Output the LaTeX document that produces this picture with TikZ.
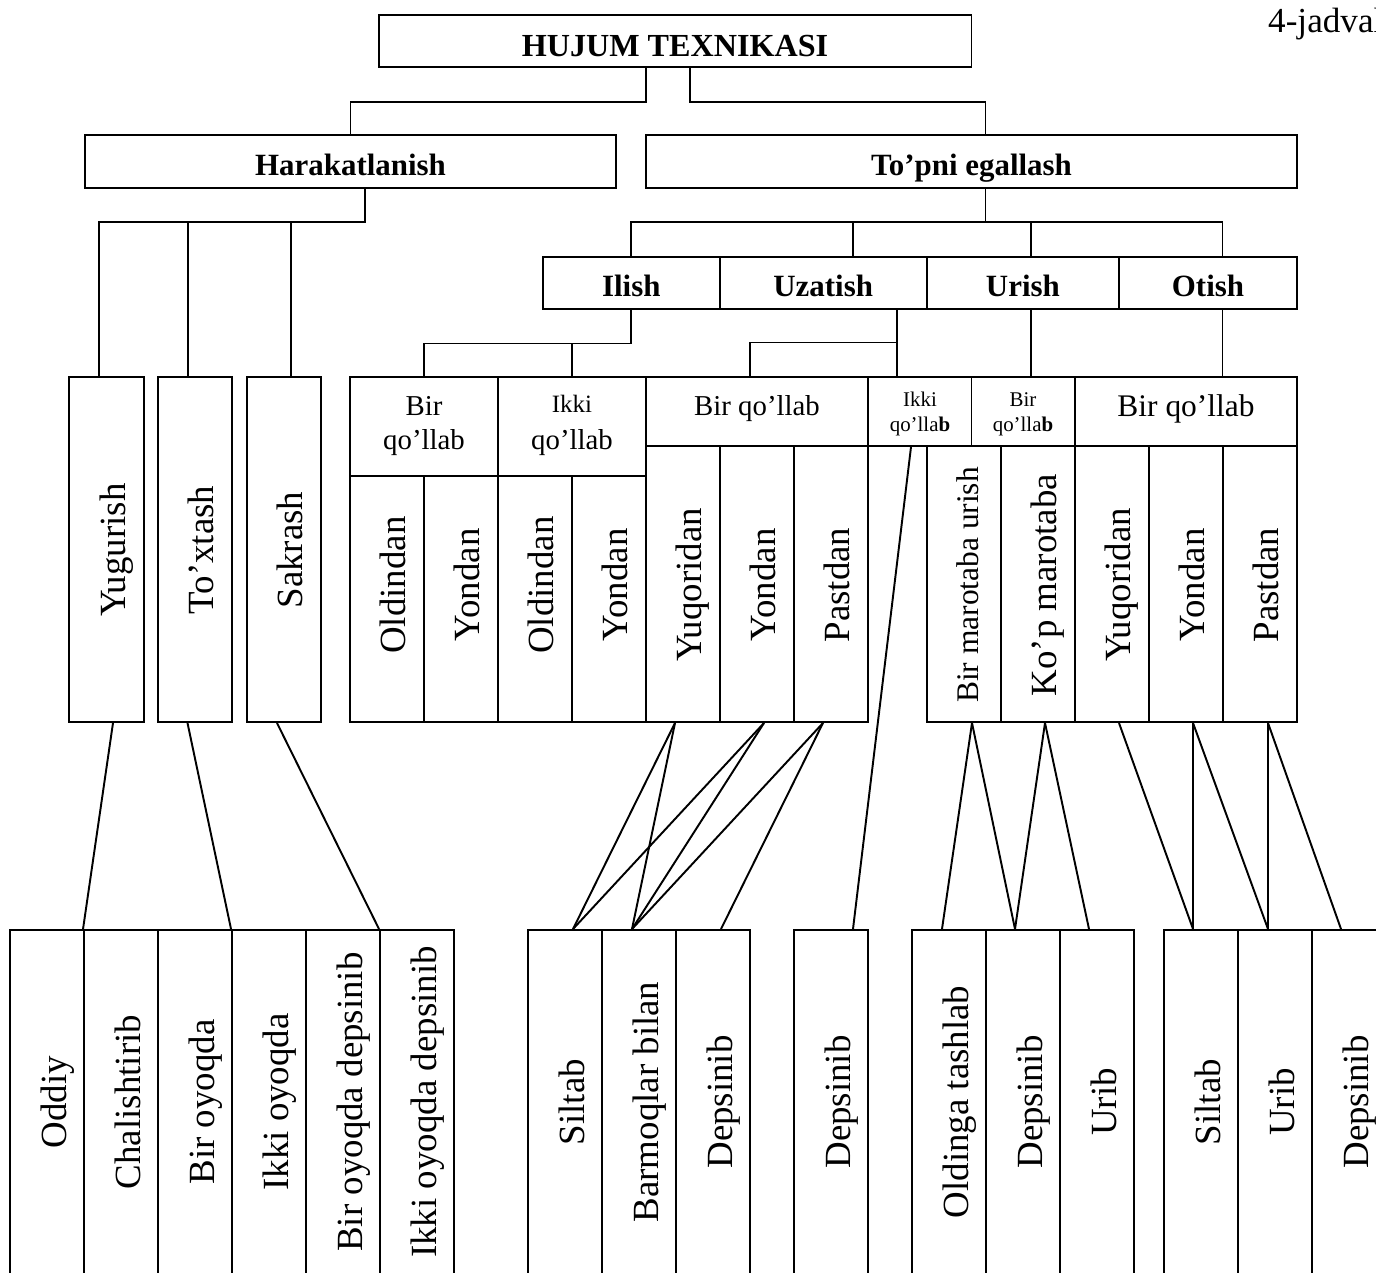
\documentclass[tikz,border=0pt]{standalone}
\usepackage{fontspec}
\setmainfont{Liberation Serif}
\usetikzlibrary{fit}

\begin{document}
\begin{tikzpicture}[x=0.02cm, y=-0.02cm,
    box/.style={draw, line width=1.1pt, inner sep=0pt},
    link/.style={line width=1.1pt},
    hd/.style={font=\fontsize{17.6}{20}\selectfont\bfseries, anchor=base},
    lbl/.style={font=\fontsize{16.4}{19}\selectfont, anchor=base},
    sm/.style={font=\fontsize{11.9}{14}\selectfont, anchor=base},
    vt/.style={font=\fontsize{21}{24}\selectfont, rotate=90, anchor=base}]

\useasboundingbox (0,0) rectangle (1376,1272);

% ── TOP: title ──
\node[box, fit={(379,15) (971.5,67)}] (title) {};
\node[hd, font=\fontsize{18.3}{21}\selectfont\bfseries] (title-t) at (675,56) {HUJUM TEXNIKASI};
\node[font=\fontsize{20}{24}\selectfont, anchor=base west] (jadval) at (1262,32) {4-jadval};

% ── LEVEL 1 ──
\node[box, fit={(85,135) (616,188)}] (harak) {};
\node[hd] (harak-t) at (350.5,175) {Harakatlanish};
\node[box, fit={(646,135) (1297,188)}] (topni) {};
\node[hd] (topni-t) at (971.5,175) {To’pni egallash};

% ── LEVEL 2: ways of taking the ball ──
\node[box, fit={(543,257) (719.6,309)}] (ilish) {};
\node[hd] (ilish-t) at (631.3,296) {Ilish};
\node[box, fit={(719.6,257) (926.7,309)}] (uzat) {};
\node[hd] (uzat-t) at (823.2,296) {Uzatish};
\node[box, fit={(926.7,257) (1119,309)}] (urish) {};
\node[hd] (urish-t) at (1022.9,296) {Urish};
\node[box, fit={(1119,257) (1297,309)}] (otish) {};
\node[hd] (otish-t) at (1208,296) {Otish};

% ── LEVEL 3: Harakatlanish ──
\node[box, fit={(69,377) (144,722)}] (yug) {};
\node[vt] (yug-t) at (125,550) {Yugurish};
\node[box, fit={(158,377) (232,722)}] (tox) {};
\node[vt] (tox-t) at (213,550) {To’xtash};
\node[box, fit={(247,377) (321,722)}] (sak) {};
\node[vt] (sak-t) at (302,550) {Sakrash};

% Ilish
\node[box, fit={(350,377) (498,476)}] (ib) {};
\node[lbl] (ib-t1) at (424,415) {Bir};
\node[lbl] (ib-t2) at (424,449.5) {qo’llab};
\node[box, fit={(498,377) (646,476)}] (ik) {};
\node[lbl, font=\fontsize{14.2}{17}\selectfont] (ik-t1) at (572,412.7) {Ikki};
\node[lbl] (ik-t2) at (572,449.5) {qo’llab};
\node[box, fit={(350,476) (424,722)}] (old1) {};
\node[vt] (old1-t) at (405,585) {Oldindan};
\node[box, fit={(424,476) (498,722)}] (yon1) {};
\node[vt] (yon1-t) at (479,585) {Yondan};
\node[box, fit={(498,476) (572,722)}] (old2) {};
\node[vt] (old2-t) at (553,585) {Oldindan};
\node[box, fit={(572,476) (646,722)}] (yon2) {};
\node[vt] (yon2-t) at (627,585) {Yondan};

% Uzatish
\node[box, fit={(646,377) (868,446)}] (ub) {};
\node[lbl] (ub-t) at (757,415) {Bir qo’llab};
\node[box, fit={(646,446) (720,722)}] (yuq1) {};
\node[vt] (yuq1-t) at (701,585) {Yuqoridan};
\node[box, fit={(720,446) (794,722)}] (yon3) {};
\node[vt] (yon3-t) at (775,585) {Yondan};
\node[box, fit={(794,446) (868,722)}] (pas1) {};
\node[vt] (pas1-t) at (849,585) {Pastdan};
\node[box, fit={(868,377) (971.5,446)}] (uk) {};
\node[sm] (uk-t1) at (920,406.7) {Ikki};
\node[sm] (uk-t2) at (920,431.7) {qo’lla\textbf{b}};

% Urish
\node[box, fit={(971.5,377) (1075,446)}] (rb) {};
\node[sm] (rb-t1) at (1023,406.7) {Bir};
\node[sm] (rb-t2) at (1023,431.7) {qo’lla\textbf{b}};
\node[box, fit={(927,446) (1001,722)}] (bmu) {};
\node[vt, font=\fontsize{17.9}{21}\selectfont] (bmu-t) at (978,585) {Bir marotaba urish};
\node[box, fit={(1001,446) (1075,722)}] (kpm) {};
\node[vt] (kpm-t) at (1056,585) {Ko’p marotaba};

% Otish
\node[box, fit={(1075,377) (1297,446)}] (ob) {};
\node[lbl, font=\fontsize{17.9}{21}\selectfont] (ob-t) at (1186,416.7) {Bir qo’llab};
\node[box, fit={(1075,446) (1149,722)}] (yuq2) {};
\node[vt] (yuq2-t) at (1130,585) {Yuqoridan};
\node[box, fit={(1149,446) (1223,722)}] (yon4) {};
\node[vt] (yon4-t) at (1204,585) {Yondan};
\node[box, fit={(1223,446) (1297,722)}] (pas2) {};
\node[vt] (pas2-t) at (1278,585) {Pastdan};

% ── BOTTOM ROW ──
\node[box, fit={(10,930) (84,1300)}] (odd) {};
\node[vt] (odd-t) at (66,1102) {Oddiy};
\node[box, fit={(84,930) (158,1300)}] (cha) {};
\node[vt] (cha-t) at (140,1102) {Chalishtirib};
\node[box, fit={(158,930) (232,1300)}] (bo) {};
\node[vt] (bo-t) at (214,1102) {Bir oyoqda};
\node[box, fit={(232,930) (306,1300)}] (io) {};
\node[vt] (io-t) at (288,1102) {Ikki oyoqda};
\node[box, fit={(306,930) (380,1300)}] (bod) {};
\node[vt] (bod-t) at (362,1102) {Bir oyoqda depsinib};
\node[box, fit={(380,930) (454,1300)}] (iod) {};
\node[vt] (iod-t) at (436,1102) {Ikki oyoqda depsinib};

\node[box, fit={(528,930) (602,1300)}] (sil1) {};
\node[vt] (sil1-t) at (584,1102) {Siltab};
\node[box, fit={(602,930) (676,1300)}] (bar) {};
\node[vt] (bar-t) at (658,1102) {Barmoqlar bilan};
\node[box, fit={(676,930) (750,1300)}] (dep1) {};
\node[vt] (dep1-t) at (732,1102) {Depsinib};

\node[box, fit={(794,930) (868,1300)}] (dep2) {};
\node[vt] (dep2-t) at (850,1102) {Depsinib};

\node[box, fit={(912,930) (986,1300)}] (old3) {};
\node[vt] (old3-t) at (968,1102) {Oldinga tashlab};
\node[box, fit={(986,930) (1060,1300)}] (dep3) {};
\node[vt] (dep3-t) at (1042,1102) {Depsinib};
\node[box, fit={(1060,930) (1134,1300)}] (uri1) {};
\node[vt] (uri1-t) at (1116,1102) {Urib};

\node[box, fit={(1164,930) (1238,1300)}] (sil2) {};
\node[vt] (sil2-t) at (1220,1102) {Siltab};
\node[box, fit={(1238,930) (1312,1300)}] (uri2) {};
\node[vt] (uri2-t) at (1294,1102) {Urib};
\node[box, fit={(1312,930) (1386,1300)}] (dep4) {};
\node[vt] (dep4-t) at (1368,1102) {Depsinib};

% ── CONNECTORS ──
% title -> level 1
\draw[link] (title.south -| 646,0) -- ++(0,34) -| (harak.north);
\draw[link] (title.south -| 690,0) -- ++(0,34) -| (topni.north -| 985.5,0);

% Harakatlanish bus
\coordinate (hbus) at (365,222);
\draw[link] (harak.south -| hbus) -- (hbus) -| (yug.north -| 99,0);
\draw[link] (hbus -| 188,0) -- (tox.north -| 188,0);
\draw[link] (hbus -| 291,0) -- (sak.north -| 291,0);

% To'pni egallash bus
\coordinate (tbus) at (985.5,222);
\draw[link] (topni.south -| tbus) -- (tbus);
\draw[link] (ilish.north) |- (tbus) -| (otish.north -| 1222.5,0);
\draw[link] (tbus -| 853,0) -- (uzat.north -| 853,0);
\draw[link] (tbus -| 1031,0) -- (urish.north -| 1031,0);

% level 2 -> level 3
\draw[link] (ilish.south) -- ++(0,33.5) -| (ib.north);
\draw[link] (ik.north) -- ++(0,-33.5);
\coordinate (ubus) at (897,342.5);
\draw[link] (uzat.south -| ubus) -- (uk.north -| ubus);
\draw[link] (ubus) -| (ub.north -| 750,0);
\draw[link] (urish.south -| 1031,0) -- (rb.north -| 1031,0);
\draw[link] (otish.south -| 1222.5,0) -- (ob.north -| 1222.5,0);

% Harakatlanish -> bottom
\draw[link] (yug.south -| 113,0) -- (cha.north west);
\draw[link] (tox.south -| 187.5,0) -- (io.north west);
\draw[link] (sak.south -| 277,0) -- (iod.north west);

% Uzatish (Bir qo'llab) -> bottom
\draw[link] (yuq1.south -| 675,0) -- (sil1.north -| 573,0);
\draw[link] (yuq1.south -| 675,0) -- (bar.north -| 632,0);
\draw[link] (yon3.south -| 764,0) -- (sil1.north -| 573,0);
\draw[link] (yon3.south -| 764,0) -- (bar.north -| 632,0);
\draw[link] (pas1.south -| 823,0) -- (bar.north -| 632,0);
\draw[link] (pas1.south -| 823,0) -- (dep1.north -| 721,0);
% Uzatish (Ikki qo'llab) -> Depsinib
\draw[link] (uk.south -| 911,0) -- (dep2.north -| 853,0);

% Urish -> bottom
\draw[link] (bmu.south -| 972,0) -- (old3.north -| 942,0);
\draw[link] (bmu.south -| 972,0) -- (dep3.north -| 1015,0);
\draw[link] (kpm.south -| 1045,0) -- (dep3.north -| 1015,0);
\draw[link] (kpm.south -| 1045,0) -- (uri1.north -| 1089,0);

% Otish -> bottom
\draw[link] (yuq2.south -| 1119,0) -- (sil2.north -| 1193,0);
\draw[link] (yon4.south -| 1193,0) -- (sil2.north -| 1193,0);
\draw[link] (yon4.south -| 1193,0) -- (uri2.north -| 1268,0);
\draw[link] (pas2.south -| 1268,0) -- (uri2.north -| 1268,0);
\draw[link] (pas2.south -| 1268,0) -- (dep4.north -| 1341,0);

\end{tikzpicture}
\end{document}
